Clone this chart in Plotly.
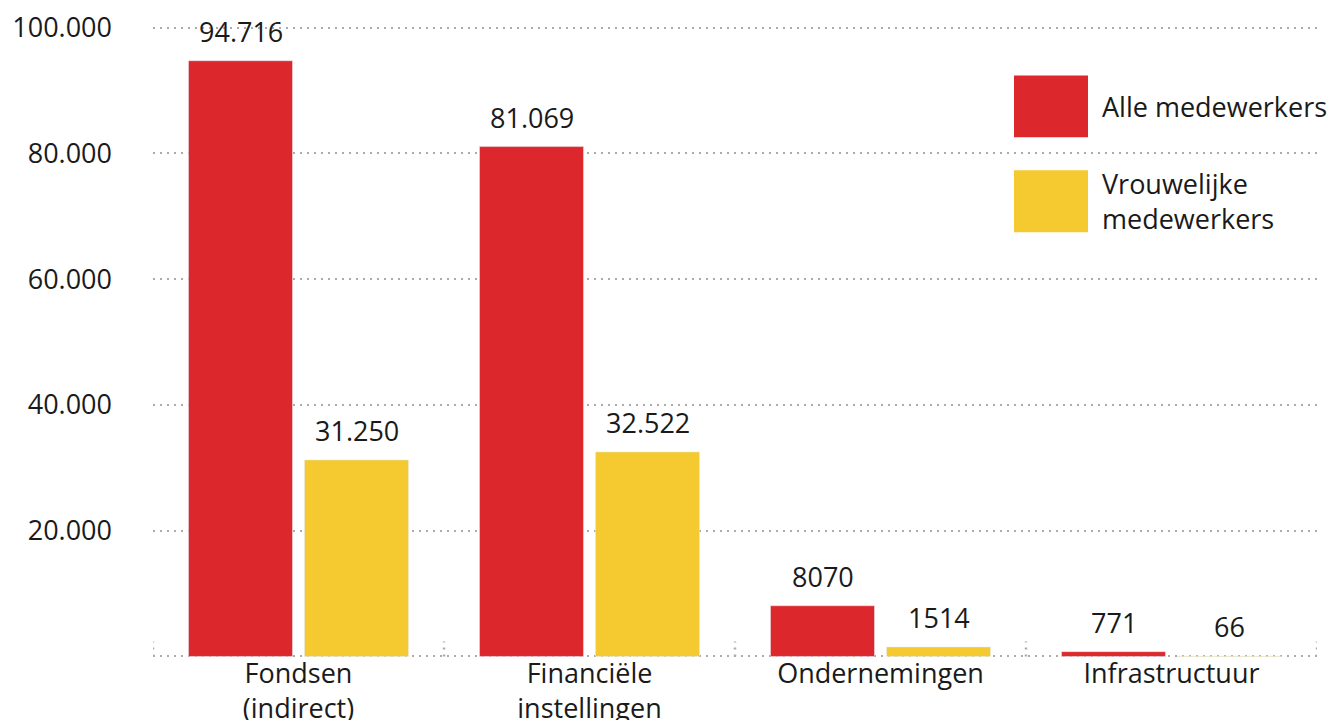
import plotly.graph_objects as go

categories = ["Fondsen<br>(indirect)", "Financiële<br>instellingen", "Ondernemingen", "Infrastructuur"]
alle = [94716, 81069, 8070, 771]
vrouw = [31250, 32522, 1514, 66]
series_names = ["Alle medewerkers", "Vrouwelijke<br>medewerkers"]
tick_vals = [0, 20000, 40000, 60000, 80000, 100000]
tick_text = ["", "20.000", "40.000", "60.000", "80.000", "100.000"]

RED = "#DC282C"
YELLOW = "#F4CA30"
GRID = "#ABABAB"
FONT = "Open Sans"
FS = 27
TXT = "#1a1a1a"

# page body has an 8px margin: figure starts at (8, 8) on screen
OFF = 8
FW, FH = 1343 - OFF, 720 - OFF
L = 153 - OFF
R = 1343 - 1317
T = 27 - OFF - 2.5
B = FH - (657 - OFF) - 2.5
PW, PH = FW - L - R, FH - T - B
Y0, Y1 = -400, 100400


def py(ypix):  # screen y -> paper
    return (FH - B - (ypix - OFF)) / PH


def px(xpix):  # screen x -> paper
    return (xpix - OFF - L) / PW


def fmt(v):
    return f"{v:,}".replace(",", ".") if v >= 10000 else str(v)


fig = go.Figure()
fig.add_trace(go.Bar(x=categories, y=alle, marker_color=RED, name=series_names[0]))
fig.add_trace(go.Bar(x=categories, y=vrouw, marker_color=YELLOW, name=series_names[1]))

# value labels
for vals, shift in ((alle, -58), (vrouw, 58)):
    for c, v in zip(categories, vals):
        fig.add_annotation(x=c, y=v, text=fmt(v), showarrow=False, xshift=shift,
                           yanchor="bottom", yshift=9,
                           font=dict(family=FONT, size=FS, color=TXT))

# category boundary ticks
for b in [-0.5, 0.5, 1.5, 2.5, 3.5]:
    fig.add_shape(type="line", xref="x", yref="y", x0=b, x1=b, y0=0, y1=2400,
                  line=dict(color=GRID, width=2.5, dash="2px,5px"))

# legend
for i, (col, nm) in enumerate(zip([RED, YELLOW], series_names)):
    y_top = 75 + i * 95
    fig.add_shape(type="rect", xref="paper", yref="paper",
                  x0=px(1014), x1=px(1088),
                  y0=py(y_top + 62), y1=py(y_top),
                  fillcolor=col, line=dict(width=0), layer="above")
    fig.add_annotation(xref="paper", yref="paper", x=px(1100),
                       y=py(y_top + 31), xanchor="left", yanchor="middle",
                       align="left", text=nm, showarrow=False,
                       font=dict(family=FONT, size=FS, color=TXT))

fig.update_layout(
    width=FW, height=FH,
    margin=dict(l=L, r=R, t=T, b=B, autoexpand=False),
    paper_bgcolor="white", plot_bgcolor="white",
    barmode="group", bargap=0.2027, bargroupgap=0.1034,
    showlegend=False,
    font=dict(family=FONT, size=FS, color=TXT),
    xaxis=dict(showgrid=False, showline=False, zeroline=False, ticks="",
               automargin=False, ticklabeloverflow="allow", ticklabelstandoff=-4,
               tickfont=dict(family=FONT, size=FS, color=TXT), range=[-0.5, 3.5]),
    yaxis=dict(range=[Y0, Y1], tickvals=tick_vals, ticktext=tick_text,
               showgrid=True, gridcolor=GRID, gridwidth=2, griddash="2px,5px",
               zeroline=False, showline=False, ticks="", ticklabelstandoff=40,
               automargin=False, ticklabeloverflow="allow",
               tickfont=dict(family=FONT, size=FS, color=TXT)),
)

fig.write_html("out.html")
